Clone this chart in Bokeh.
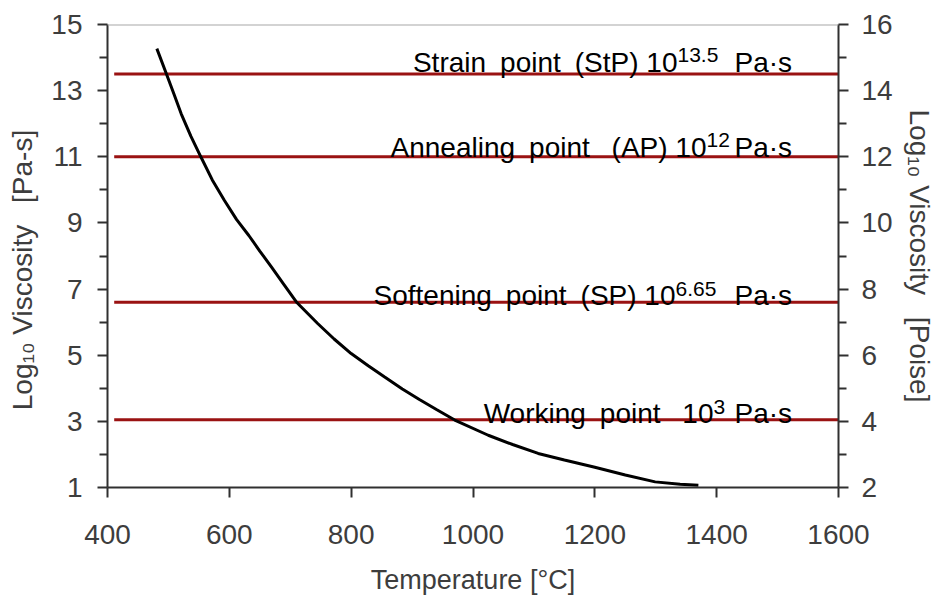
import numpy as np
from bokeh.plotting import figure
from bokeh.models import Range1d, LinearAxis, FixedTicker, Label, Span
from bokeh.embed import file_html
from bokeh.resources import INLINE

# ---------------- data ----------------
temperature_c = [481, 496, 508, 521, 537, 554, 572, 592, 612, 632, 650, 669, 690,
                 710, 745, 772, 800, 828, 855, 884, 912, 940, 970, 1025, 1065,
                 1107, 1150, 1200, 1250, 1299, 1340, 1370]
log_visc_pas = [14.27, 13.54, 12.95, 12.30, 11.62, 10.97, 10.30, 9.68, 9.10, 8.62,
                8.15, 7.67, 7.13, 6.61, 5.96, 5.49, 5.05, 4.68, 4.34, 3.98, 3.66,
                3.36, 3.04, 2.58, 2.30, 2.03, 1.83, 1.61, 1.38, 1.17, 1.10, 1.07]

ref_levels = [13.5, 11.0, 6.6, 3.05]
ref_names = ["Strain\u2002point\u2002(StP) 10", "Annealing\u2002point\u2002 (AP) 10",
             "Softening\u2002point\u2002(SP) 10", "Working\u2002point\u2002 10"]
ref_exps = ["13.5", "12", "6.65", "3"]
ref_unit = "Pa·s"
ref_line_start = 411
ref_line_end = 1600

x_ticks = [400, 600, 800, 1000, 1200, 1400, 1600]
left_ticks = [1, 3, 5, 7, 9, 11, 13, 15]
left_minor = [2, 4, 6, 8, 10, 12, 14]
right_ticks = [2, 4, 6, 8, 10, 12, 14, 16]
right_minor = [3, 5, 7, 9, 11, 13, 15]

x_title = "Temperature [°C]"
left_title = "Log\u2081\u2080 Viscosity \u2002[Pa-s]\u2002\u2002"
right_title = "Log\u2081\u2080 Viscosity \u2002[Poise]"

# ---------------- layout helpers ----------------
W, H = 938, 605
FL, FR, FT, FB = 107, 838, 24, 487
X0, X1, Y0, Y1 = 400, 1600, 1, 15


def px2x(px):
    return X0 + (px - FL) * (X1 - X0) / (FR - FL)


def py2y(py):
    return Y1 - (py - FT) * (Y1 - Y0) / (FB - FT)


FONT = "Liberation Sans"
GRAY = "#3d3d3d"
AXC = "#303030"
RED = "#9a1212"

p = figure(width=W, height=H, output_backend="svg", toolbar_location=None,
           x_range=Range1d(X0, X1), y_range=Range1d(Y0, Y1),
           min_border_left=FL, min_border_right=W - FR,
           min_border_top=FT, min_border_bottom=H - FB)
p.extra_y_ranges = {"poise": Range1d(2, 16)}
p.grid.visible = False
p.outline_line_color = None
p.background_fill_color = "white"
p.border_fill_color = "white"


def style_axis(ax, title, standoff):
    ax.axis_line_color = AXC
    ax.axis_line_width = 2
    ax.major_tick_line_color = AXC
    ax.major_tick_line_width = 2
    ax.minor_tick_line_color = AXC
    ax.minor_tick_line_width = 2
    ax.major_tick_in = 0
    ax.minor_tick_in = 0
    ax.major_tick_out = 10
    ax.minor_tick_out = 8
    ax.major_label_text_font = FONT
    ax.major_label_text_font_size = "28px"
    ax.major_label_text_color = GRAY
    ax.axis_label = title
    ax.axis_label_text_font = FONT
    ax.axis_label_text_font_size = "28px"
    ax.axis_label_text_font_style = "normal"
    ax.axis_label_text_color = GRAY
    ax.axis_label_standoff = standoff


xa = p.xaxis[0]
xa.ticker = FixedTicker(ticks=x_ticks)
style_axis(xa, x_title, 18)
xa.axis_label_text_font_size = "27px"
xa.minor_tick_out = 0
xa.major_label_standoff = 27

ya = p.yaxis[0]
ya.ticker = FixedTicker(ticks=left_ticks, minor_ticks=left_minor)
style_axis(ya, left_title, 10)
ya.major_label_standoff = 15

ra = LinearAxis(y_range_name="poise",
                ticker=FixedTicker(ticks=right_ticks, minor_ticks=right_minor))
style_axis(ra, right_title, 8)
ra.major_label_standoff = 13
p.add_layout(ra, "right")

p.add_layout(Span(location=Y1, dimension="width", line_color="#a8a8a8", line_width=2))

# reference lines
p.segment(x0=[ref_line_start] * len(ref_levels), x1=[ref_line_end] * len(ref_levels),
          y0=ref_levels, y1=ref_levels, line_color=RED, line_width=3)

# viscosity curve
p.line(temperature_c, log_visc_pas, line_color="black", line_width=3)

# reference labels
main_baselines = [61.7, 146.7, 295, 413.3]
sup_starts = [677, 706, 675, 713]
unit_start = 734
for name, exp, bl, ss in zip(ref_names, ref_exps, main_baselines, sup_starts):
    p.add_layout(Label(x=px2x(ss), y=py2y(bl), text=name, text_align="right",
                       text_baseline="alphabetic", text_font=FONT,
                       text_font_size="28px", text_color="black"))
    p.add_layout(Label(x=px2x(ss), y=py2y(bl - 7), text=exp, text_align="left",
                       text_baseline="alphabetic", text_font=FONT,
                       text_font_size="21px", text_color="black"))
    p.add_layout(Label(x=px2x(unit_start), y=py2y(bl), text=ref_unit, text_align="left",
                       text_baseline="alphabetic", text_font=FONT,
                       text_font_size="28px", text_color="black"))

open("out.html", "w").write(file_html(p, INLINE))
